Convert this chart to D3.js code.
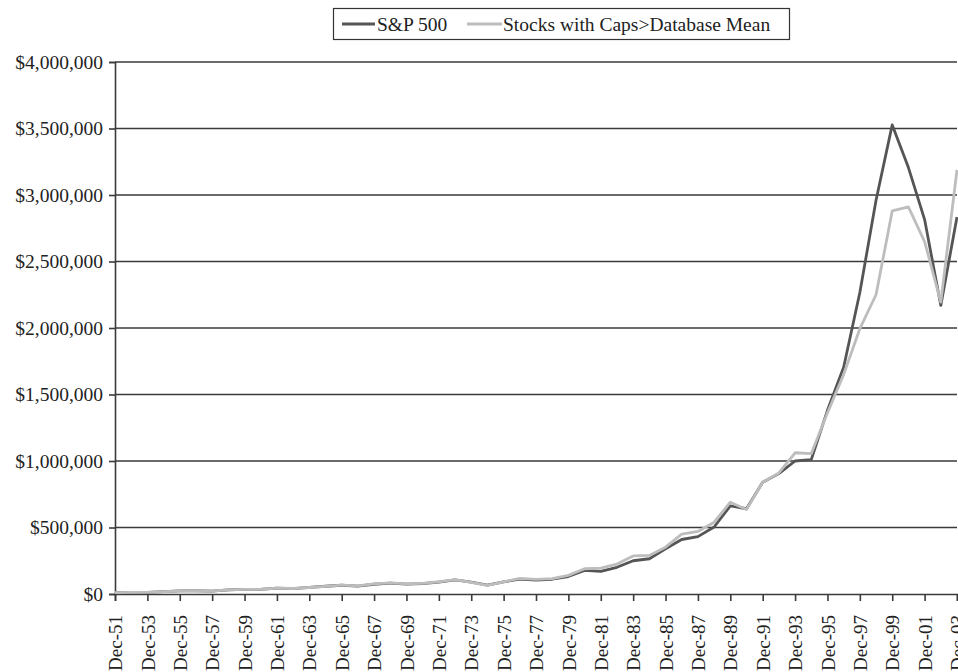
<!DOCTYPE html>
<html>
<head>
<meta charset="utf-8">
<script src="https://cdn.jsdelivr.net/npm/d3@7"></script>
<style>
  html, body { margin: 0; padding: 0; background: #fff; }
  svg { display: block; }
  text { font-family: "Liberation Serif", "Times New Roman", serif; fill: #222; }
</style>
</head>
<body>
<script>
// ---- Data ----
const years = d3.range(1951, 2004);
const sp500 = [
  9800, 11600, 11400, 17500, 23000, 24500, 21800, 31300, 35100, 35300,
  44700, 40800, 50200, 58400, 65700, 59100, 73300, 81400, 74500, 77500,
  88600, 105400, 89900, 66100, 90600, 112200, 104100, 111000, 131400, 178000,
  170000, 200900, 250000, 265000, 340000, 409800, 431200, 503600, 662200, 641000,
  840000, 905000, 1000000, 1010000, 1381000, 1705000, 2267000, 2960000, 3527000, 3206000,
  2815000, 2170000, 2835000
];
const capsAboveMean = [
  10500, 12400, 11900, 17000, 22800, 25200, 22600, 30500, 34500, 35800,
  43500, 41500, 49000, 57500, 66500, 61000, 75500, 83000, 76500, 80000,
  92000, 108000, 88000, 64000, 92000, 117000, 110000, 116000, 140000, 190000,
  195000, 225000, 286000, 290000, 352000, 450000, 470000, 540000, 690000, 635000,
  840000, 910000, 1062000, 1055000, 1362000, 1650000, 1995000, 2250000, 2880000, 2910000,
  2650000, 2195000, 3188000
];
const seriesNames = ["S&P 500", "Stocks with Caps>Database Mean"];
const yTicks = [0, 500000, 1000000, 1500000, 2000000, 2500000, 3000000, 3500000, 4000000];
const xTickYears = d3.range(1951, 2004, 2);
const xTickLabels = xTickYears.map(y => "Dec-" + String(y % 100).padStart(2, "0"));

// ---- Layout ----
const W = 958, H = 672;
const margin = { left: 115, right: 1, top: 62, bottom: 78 };
const colors = ["#555555", "#bdbdbd"];

const svg = d3.select("body").append("svg").attr("width", W).attr("height", H);

const x = d3.scalePoint().domain(years).range([margin.left, W - margin.right]).padding(0);
const y = d3.scaleLinear().domain([0, 4000000]).range([H - margin.bottom, margin.top]);

// gridlines
svg.append("g").selectAll("line").data(yTicks.filter(d => d > 0)).join("line")
  .attr("x1", margin.left).attr("x2", W - margin.right)
  .attr("y1", d => y(d)).attr("y2", d => y(d))
  .attr("stroke", "#3a3a3a").attr("stroke-width", 1.6);

// y axis
const yAxis = d3.axisLeft(y).tickValues(yTicks).tickSize(6).tickPadding(6)
  .tickFormat(d => "$" + d3.format(",")(d));
const gy = svg.append("g").attr("transform", `translate(${margin.left},0)`).call(yAxis);
gy.select(".domain").attr("stroke", "#3a3a3a").attr("stroke-width", 1.6);
gy.selectAll(".tick line").attr("stroke", "#3a3a3a").attr("stroke-width", 1.6);
gy.selectAll("text").style("font-size", "19.5px").attr("fill", "#222")
  .style("font-family", '"Liberation Serif", serif');

// x axis
const labelMap = new Map(xTickYears.map((yr, i) => [yr, xTickLabels[i]]));
const xAxis = d3.axisBottom(x).tickValues(xTickYears).tickSize(7).tickPadding(4)
  .tickFormat(d => labelMap.get(d));
const gx = svg.append("g").attr("transform", `translate(0,${H - margin.bottom})`).call(xAxis);
gx.select(".domain").attr("stroke", "#3a3a3a").attr("stroke-width", 1.6);
gx.selectAll(".tick line").attr("stroke", "#3a3a3a").attr("stroke-width", 1.6);
gx.selectAll("text")
  .style("font-size", "19px").attr("fill", "#222")
  .style("font-family", '"Liberation Serif", serif')
  .attr("text-anchor", "end")
  .attr("transform", "rotate(-90)")
  .attr("x", -21).attr("y", 0).attr("dy", "0.35em");

// lines
const line = d3.line().x((d, i) => x(years[i])).y(d => y(d));
[sp500, capsAboveMean].forEach((vals, k) => {
  svg.append("path").datum(vals)
    .attr("fill", "none")
    .attr("stroke", colors[k])
    .attr("stroke-width", 2.8)
    .attr("stroke-linejoin", "round")
    .attr("d", line);
});

// legend
const lg = svg.append("g");
lg.append("rect").attr("x", 333.5).attr("y", 8.5).attr("width", 456).attr("height", 31)
  .attr("fill", "#fff").attr("stroke", "#333").attr("stroke-width", 1.2);
const legendItems = [
  { x1: 342, x2: 375, tx: 377 },
  { x1: 467, x2: 502, tx: 503 }
];
legendItems.forEach((it, k) => {
  lg.append("line").attr("x1", it.x1).attr("x2", it.x2).attr("y1", 24).attr("y2", 24)
    .attr("stroke", colors[k]).attr("stroke-width", 2.8);
  lg.append("text").attr("x", it.tx).attr("y", 24).attr("dy", "0.35em")
    .style("font-size", "19.5px").text(seriesNames[k]);
});
</script>
</body>
</html>
